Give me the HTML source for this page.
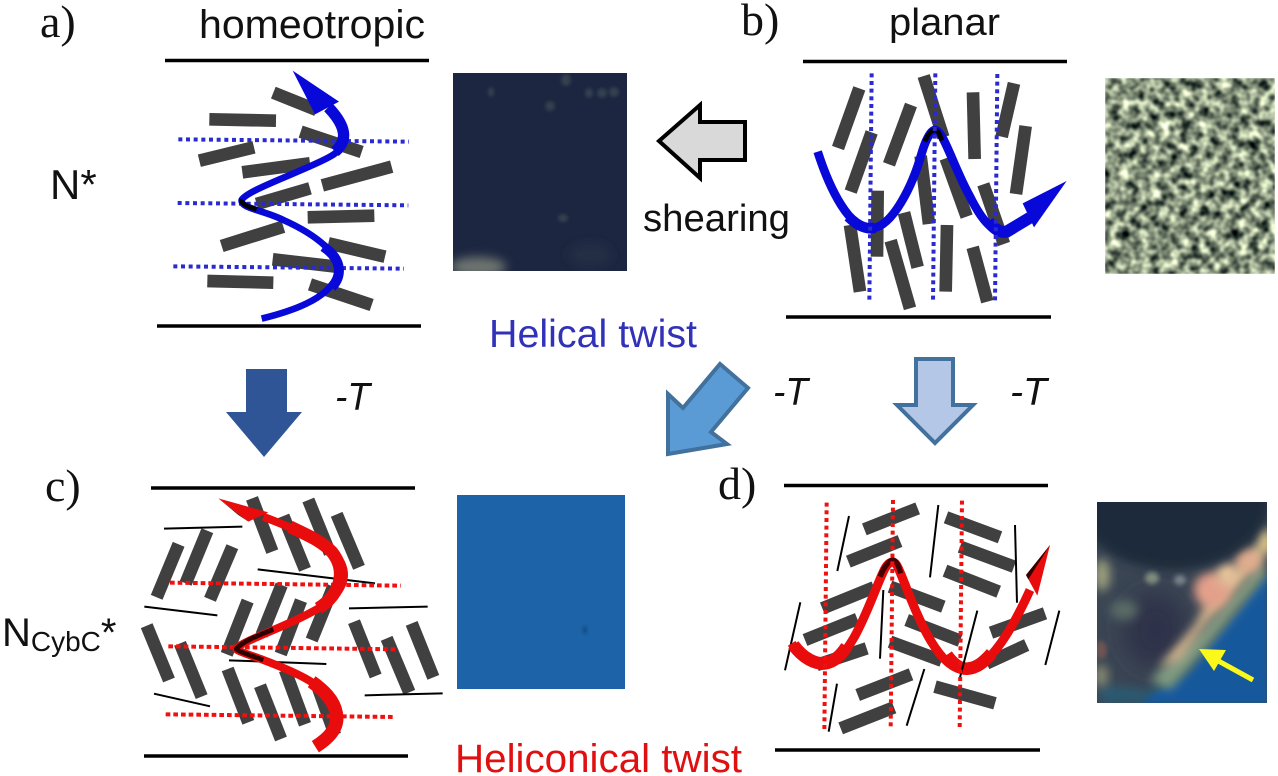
<!DOCTYPE html>
<html><head><meta charset="utf-8"><style>
html,body{margin:0;padding:0;background:#fff;width:1278px;height:776px;overflow:hidden}
svg{display:block}
text{font-family:"Liberation Sans",sans-serif;fill:#111}
.r line{stroke:#404040;stroke-width:38}
.t line{stroke:#000;stroke-width:6}
.db line{stroke:#2a2ad0;stroke-width:12;stroke-dasharray:12 11}
.dr line{stroke:#f01010;stroke-width:12;stroke-dasharray:14 9}
.bh{fill:none;stroke:#0808d8;stroke-width:20}
.rh{fill:none;stroke:#e80c0c;stroke-width:24}
</style></head><body>
<svg width="1278" height="776" viewBox="0 0 1278 776" xmlns="http://www.w3.org/2000/svg">
<defs>
<filter id="b1" x="-50%" y="-50%" width="200%" height="200%"><feGaussianBlur stdDeviation="1.5"/></filter>
<filter id="b2" x="-30%" y="-30%" width="160%" height="160%"><feGaussianBlur stdDeviation="2.5"/></filter>
<filter id="b5" x="-50%" y="-50%" width="200%" height="200%"><feGaussianBlur stdDeviation="5"/></filter>
<filter id="b9" x="-100%" y="-100%" width="300%" height="300%"><feGaussianBlur stdDeviation="12"/></filter>
<filter id="tex" x="0" y="0" width="100%" height="100%" color-interpolation-filters="sRGB">
<feTurbulence type="fractalNoise" baseFrequency="0.1" numOctaves="2" seed="7"/>
<feColorMatrix type="matrix" values="1.75 0 0 0 -.35  1.75 0 0 0 -.3  1.45 0 0 0 -.24  0 0 0 0 1"/>
<feGaussianBlur stdDeviation=".8"/>
</filter>
<clipPath id="c1"><rect x="453" y="73" width="174" height="198"/></clipPath>
<clipPath id="c2"><rect x="1097" y="502" width="170" height="201"/></clipPath>
<clipPath id="c3"><rect x="457" y="495" width="168" height="194"/></clipPath>
</defs>

<!-- images -->
<g clip-path="url(#c1)">
<rect x="453" y="73" width="174" height="198" fill="#1c2640"/>
<g fill="#333f50" filter="url(#b1)">
<ellipse cx="614" cy="92" rx="5" ry="5"/><ellipse cx="602" cy="93" rx="5" ry="5"/><ellipse cx="589" cy="93" rx="4" ry="5"/><ellipse cx="566" cy="80" rx="5" ry="6"/><ellipse cx="550" cy="106" rx="5" ry="5"/><ellipse cx="563" cy="218" rx="5" ry="4"/><ellipse cx="491" cy="92" rx="3" ry="5"/>
</g>
<ellipse cx="478" cy="267" rx="28" ry="10" fill="#6e7570" filter="url(#b5)"/>
<ellipse cx="590" cy="255" rx="22" ry="12" fill="#242e44" filter="url(#b5)"/>
</g>
<g clip-path="url(#c3)">
<rect x="457" y="495" width="168" height="194" fill="#1c63a8"/>
<ellipse cx="585" cy="630" rx="2" ry="4" fill="#17497f" filter="url(#b1)"/>
</g>
<rect x="1105" y="78" width="170" height="196" fill="#7c8a80" filter="url(#tex)"/>
<g clip-path="url(#c2)">
<rect x="1097" y="502" width="170" height="201" fill="#3b4654"/>
<path d="M1100 703L1100 685L1150 690L1260 600L1267 703Z" fill="#2b5a72" filter="url(#b5)"/>
<path d="M1267 572L1190 672L1140 703L1267 703Z" fill="#18589c" filter="url(#b2)"/>
<ellipse cx="1155" cy="630" rx="32" ry="38" fill="#2f3248" filter="url(#b9)"/>
<path d="M1150 680L1200 632L1262 560L1267 575L1205 650L1170 690Z" fill="#7f9a80" filter="url(#b5)"/>
<path d="M1158 668L1195 625L1212 590L1262 540L1262 560L1205 625L1180 660Z" fill="#d8b890" filter="url(#b5)"/>
<ellipse cx="1212" cy="590" rx="18" ry="18" fill="#e3a08a" filter="url(#b5)"/>
<ellipse cx="1227" cy="574" rx="11" ry="11" fill="#e8c49c" filter="url(#b5)"/>
<ellipse cx="1248" cy="560" rx="13" ry="12" fill="#e0ac8e" filter="url(#b5)"/>
<ellipse cx="1265" cy="542" rx="7" ry="14" fill="#e4cc8e" filter="url(#b5)"/>
<ellipse cx="1173" cy="500" rx="97" ry="70" fill="#1f2a3a" filter="url(#b5)"/>
<ellipse cx="1152" cy="578" rx="7" ry="6" fill="#7e8a7c" filter="url(#b2)"/>
<ellipse cx="1180" cy="580" rx="6" ry="5" fill="#77828a" filter="url(#b2)"/>
<ellipse cx="1102" cy="575" rx="8" ry="16" fill="#9da07e" filter="url(#b5)"/>
<ellipse cx="1124" cy="610" rx="14" ry="10" fill="#5a6a66" filter="url(#b5)"/>
<ellipse cx="1101" cy="650" rx="6" ry="9" fill="#6e5552" filter="url(#b2)"/>
<ellipse cx="1101" cy="676" rx="7" ry="11" fill="#8a8c72" filter="url(#b5)"/>
</g>
<polygon points="1199,649 1226,650 1214,671" fill="#fbf81c"/>
<line x1="1213" y1="658" x2="1253" y2="680" stroke="#fbf81c" stroke-width="5"/>

<!-- plates -->
<g stroke="#000" stroke-width="3.4">
<line x1="165" y1="60.5" x2="429" y2="60.5"/>
<line x1="157" y1="326" x2="421" y2="326"/>
<line x1="803" y1="61.5" x2="1067" y2="61.5"/>
<line x1="786" y1="317" x2="1051" y2="317"/>
<line x1="151" y1="488" x2="415" y2="488"/>
<line x1="144" y1="756" x2="408" y2="756"/>
<line x1="784" y1="485.5" x2="1048" y2="485.5"/>
<line x1="775" y1="750" x2="1040" y2="750"/>
</g>

<!-- panel a -->
<g transform="translate(140,50) scale(.33333)">
<g class="r">
<line x1="400" y1="128" x2="530" y2="180"/><line x1="208" y1="208" x2="408" y2="212"/>
<line x1="482" y1="245" x2="665" y2="306"/><line x1="178" y1="332" x2="342" y2="292"/>
<line x1="307" y1="367" x2="510" y2="340"/><line x1="547" y1="406" x2="755" y2="350"/>
<line x1="350" y1="462" x2="510" y2="415"/><line x1="503" y1="502" x2="703" y2="497"/>
<line x1="245" y1="588" x2="430" y2="530"/><line x1="565" y1="580" x2="735" y2="620"/>
<line x1="398" y1="628" x2="590" y2="650"/><line x1="202" y1="693" x2="400" y2="698"/>
<line x1="510" y1="703" x2="695" y2="765"/>
</g>
<g class="db"><line x1="115" y1="268" x2="807" y2="275"/><line x1="113" y1="459" x2="805" y2="466"/><line x1="100" y1="649" x2="792" y2="656"/></g>
<path class="bh" d="M365 806C450 785 560 750 590 680C620 620 520 550 430 510C370 480 300 475 305 450C320 420 500 360 570 320C625 290 630 240 565 172"/>
<path d="M585 305C620 275 625 235 565 172" fill="none" stroke="#0808d8" stroke-width="34"/>
<path d="M550 590C610 630 605 680 575 712" fill="none" stroke="#0808d8" stroke-width="30"/>
<path d="M350 478C322 470 300 460 305 448" fill="none" stroke="#000" stroke-width="14"/>
<polygon points="458,62 597,155 525,193" fill="#0808d8"/>
</g>

<!-- panel b -->
<g transform="translate(780,50) scale(.33333)">
<g class="r">
<line x1="238" y1="115" x2="174" y2="294"/><line x1="275" y1="247" x2="212" y2="425"/>
<line x1="393" y1="165" x2="327" y2="343"/><line x1="431" y1="78" x2="490" y2="262"/>
<line x1="579" y1="127" x2="584" y2="327"/><line x1="702" y1="100" x2="665" y2="260"/>
<line x1="737" y1="228" x2="708" y2="432"/><line x1="293" y1="422" x2="291" y2="620"/>
<line x1="422" y1="318" x2="447" y2="522"/><line x1="497" y1="325" x2="560" y2="500"/>
<line x1="610" y1="403" x2="672" y2="582"/><line x1="210" y1="525" x2="240" y2="725"/>
<line x1="372" y1="488" x2="413" y2="652"/><line x1="332" y1="572" x2="390" y2="775"/>
<line x1="501" y1="525" x2="497" y2="725"/><line x1="578" y1="592" x2="622" y2="755"/>
</g>
<path class="bh" style="stroke-width:26" d="M113 305C150 420 210 540 275 535C340 530 400 400 425 310C440 260 455 240 465 240C490 240 520 350 570 440C610 520 640 545 675 545"/>
<path d="M205 500C240 535 265 538 285 533" fill="none" stroke="#0808d8" stroke-width="32"/>
<path d="M625 515C650 545 665 547 680 545L750 503" fill="none" stroke="#0808d8" stroke-width="36"/>
<path d="M435 275C445 250 455 240 465 240C475 240 480 255 486 272" fill="none" stroke="#000" stroke-width="14"/>
<g class="db"><line x1="275" y1="70" x2="268" y2="760"/><line x1="466" y1="70" x2="459" y2="760"/><line x1="652" y1="72" x2="645" y2="762"/></g>
<polygon points="860,393 728,460 762,532" fill="#0808d8"/>
</g>

<!-- panel c -->
<g transform="translate(130,480) scale(.33333)">
<g class="r">
<line x1="366" y1="55" x2="427" y2="215"/><line x1="460" y1="108" x2="525" y2="268"/>
<line x1="535" y1="60" x2="600" y2="220"/><line x1="620" y1="103" x2="687" y2="262"/>
<line x1="232" y1="152" x2="167" y2="310"/><line x1="146" y1="193" x2="80" y2="352"/>
<line x1="307" y1="200" x2="240" y2="358"/><line x1="455" y1="315" x2="395" y2="465"/>
<line x1="513" y1="362" x2="452" y2="522"/><line x1="610" y1="320" x2="545" y2="480"/>
<line x1="353" y1="363" x2="290" y2="523"/><line x1="50" y1="437" x2="117" y2="600"/>
<line x1="150" y1="490" x2="215" y2="650"/><line x1="293" y1="567" x2="355" y2="727"/>
<line x1="390" y1="617" x2="453" y2="777"/><line x1="465" y1="570" x2="525" y2="733"/>
<line x1="560" y1="612" x2="615" y2="765"/><line x1="672" y1="425" x2="737" y2="588"/>
<line x1="770" y1="475" x2="838" y2="637"/><line x1="845" y1="430" x2="910" y2="592"/>
</g>
<g class="t">
<line x1="102" y1="146" x2="337" y2="140"/><line x1="383" y1="268" x2="735" y2="310"/>
<line x1="43" y1="380" x2="262" y2="406"/><line x1="657" y1="385" x2="893" y2="380"/>
<line x1="297" y1="541" x2="589" y2="552"/><line x1="72" y1="641" x2="240" y2="679"/>
<line x1="704" y1="646" x2="938" y2="640"/>
</g>
<g class="dr"><line x1="120" y1="308" x2="812" y2="317"/><line x1="115" y1="499" x2="805" y2="508"/><line x1="107" y1="703" x2="797" y2="711"/></g>
<path class="rh" d="M555 798C600 770 630 740 625 700C610 620 480 570 400 540C360 525 310 510 320 505C340 480 500 430 590 370C650 320 660 270 610 215C560 170 450 130 400 110"/>
<path d="M556 800C608 768 626 735 619 700C612 660 580 630 545 605" fill="none" stroke="#e80c0c" stroke-width="40"/>
<path d="M565 385C635 340 650 270 605 215C570 180 530 165 480 140" fill="none" stroke="#e80c0c" stroke-width="38"/>
<path d="M400 540C360 525 310 510 320 505C345 480 390 465 430 448" fill="none" stroke="#2a0000" stroke-width="14"/>
<polygon points="265,55 415,97 355,125" fill="#e80c0c"/>
<polygon points="265,55 355,125 325,105" fill="#600"/>
</g>

<!-- panel d -->
<g transform="translate(770,480) scale(.33333)">
<g class="r">
<line x1="283" y1="148" x2="443" y2="85"/><line x1="235" y1="245" x2="390" y2="183"/>
<line x1="157" y1="385" x2="312" y2="322"/><line x1="105" y1="480" x2="262" y2="417"/>
<line x1="140" y1="555" x2="290" y2="505"/><line x1="263" y1="645" x2="423" y2="583"/>
<line x1="212" y1="745" x2="372" y2="682"/><line x1="528" y1="112" x2="690" y2="172"/>
<line x1="570" y1="200" x2="732" y2="260"/><line x1="525" y1="272" x2="686" y2="335"/>
<line x1="360" y1="320" x2="520" y2="380"/><line x1="410" y1="420" x2="570" y2="482"/>
<line x1="360" y1="485" x2="515" y2="542"/><line x1="495" y1="620" x2="675" y2="670"/>
<line x1="663" y1="458" x2="825" y2="400"/><line x1="650" y1="550" x2="770" y2="495"/>
</g>
<g class="t">
<line x1="237" y1="108" x2="202" y2="273"/><line x1="505" y1="75" x2="480" y2="292"/>
<line x1="735" y1="135" x2="741" y2="368"/><line x1="91" y1="367" x2="45" y2="571"/>
<line x1="340" y1="330" x2="330" y2="536"/><line x1="868" y1="392" x2="826" y2="555"/>
<line x1="201" y1="611" x2="176" y2="755"/><line x1="463" y1="567" x2="410" y2="737"/>
</g>
<path class="rh" style="stroke-width:27" d="M65 490C90 530 130 560 165 555C250 545 310 330 345 265C360 240 375 240 385 265C420 340 490 575 590 570C660 565 730 440 780 330"/>
<path d="M70 495C100 535 135 553 165 550C190 547 210 530 230 500" fill="none" stroke="#e80c0c" stroke-width="38"/>
<path d="M530 525C555 560 575 567 592 566C620 564 640 548 665 520" fill="none" stroke="#e80c0c" stroke-width="38"/>
<path d="M330 290C345 255 360 240 368 240C378 240 385 255 392 280" fill="none" stroke="#400" stroke-width="16"/>
<line x1="622" y1="392" x2="568" y2="600" stroke="#000" stroke-width="6"/>
<g class="dr"><line x1="170" y1="68" x2="163" y2="755" style="stroke-dasharray:12 11"/><line x1="369" y1="60" x2="362" y2="750" style="stroke-dasharray:12 11"/><line x1="576" y1="62" x2="569" y2="750" style="stroke-dasharray:12 11"/></g>
<polygon points="840,195 768,285 802,347" fill="#e80c0c"/>
<polygon points="840,195 768,285 775,298" fill="#300"/>
</g>

<!-- block arrows -->
<polygon points="659,141 700,105 700,122 745,122 745,160 700,160 700,178" fill="#d9d9d9" stroke="#000" stroke-width="4"/>
<polygon points="246,369 287,369 287,412 302,412 264,457 226,412 246,412" fill="#2f5597"/>
<polygon points="720,364 748,388 711,432 727,444 668,454 668,394 683,408" fill="#5b9bd5" stroke="#41719c" stroke-width="4"/>
<polygon points="916,359 953,359 953,405 973,405 935,443 897,405 916,405" fill="#b4c7e7" stroke="#41719c" stroke-width="4"/>

<!-- text -->
<text x="40" y="37" font-size="46" style="font-family:'Liberation Serif',serif">a)</text>
<text x="741" y="35" font-size="46" style="font-family:'Liberation Serif',serif">b)</text>
<text x="45" y="501" font-size="46" style="font-family:'Liberation Serif',serif">c)</text>
<text x="718" y="499" font-size="46" style="font-family:'Liberation Serif',serif">d)</text>
<text x="199" y="38" font-size="40" textLength="226" lengthAdjust="spacingAndGlyphs">homeotropic</text>
<text x="889" y="35" font-size="38" textLength="111" lengthAdjust="spacingAndGlyphs">planar</text>
<text x="50" y="199" font-size="42">N*</text>
<text x="643" y="231" font-size="38" textLength="147" lengthAdjust="spacingAndGlyphs">shearing</text>
<text x="489" y="347" font-size="39" textLength="208" lengthAdjust="spacingAndGlyphs" style="fill:#3232b8">Helical twist</text>
<text x="335" y="410" font-size="39" font-style="italic" textLength="35" lengthAdjust="spacingAndGlyphs">-T</text>
<text x="773" y="405" font-size="39" font-style="italic" textLength="35" lengthAdjust="spacingAndGlyphs">-T</text>
<text x="1010" y="405" font-size="39" font-style="italic" textLength="37" lengthAdjust="spacingAndGlyphs">-T</text>
<text x="2" y="646" font-size="40">N<tspan font-size="28" dy="5">CybC</tspan><tspan dy="-5">*</tspan></text>
<text x="455" y="772" font-size="40" textLength="287" lengthAdjust="spacingAndGlyphs" style="fill:#e01010">Heliconical twist</text>
</svg>
</body></html>
